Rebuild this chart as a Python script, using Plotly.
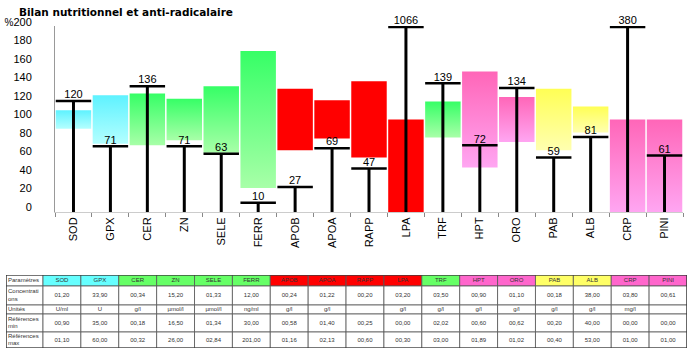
import plotly.graph_objects as go

# ---------------- data ----------------
categories = ["SOD", "GPX", "CER", "ZN", "SELE", "FERR", "APOB", "APOA", "RAPP",
              "LPA", "TRF", "HPT", "ORO", "PAB", "ALB", "CRP", "PINI"]
pct_values = [120, 71, 136, 71, 63, 10, 27, 69, 47, 1066, 139, 72, 134, 59, 81, 380, 61]
bar_low = [90, 73.7, 72, 77.6, 64.1, 26, 66.7, 79.3, 58.8, 0, 80.5, 48.2, 75.6, 66.7, 86, 0, 0]
bar_high = [110, 126.3, 128, 122.4, 135.9, 174, 133.3, 120.7, 141.2, 100, 119.5, 151.8, 124.4, 133.3, 114, 100, 100]
groups = ["cyan", "cyan", "green", "green", "green", "green", "red", "red", "red",
          "red", "green", "pink", "pink", "yellow", "yellow", "pink", "pink"]
y_ticks = [0, 20, 40, 60, 80, 100, 120, 140, 160, 180, 200]
y_ticktext = ["0", "20", "40", "60", "80", "100", "120", "140", "160", "180",
              "<span style='font-size:10px'>%</span>200"]

header_label = "Paramètres"
row_labels = ["Concentrati<br>ons", "Unités", "Références<br>min", "Références<br>max"]
concentrations = ["01,20", "33,90", "00,34", "15,20", "01,33", "12,00", "00,24", "01,22", "00,20",
                  "03,20", "03,50", "00,90", "01,10", "00,18", "38,00", "03,80", "00,61"]
units = ["U/ml", "U", "g/l", "µmol/l", "µmol/l", "ng/ml", "g/l", "g/l", "",
         "g/l", "g/l", "g/l", "g/l", "g/l", "g/l", "mg/l", ""]
ref_min = ["00,90", "35,00", "00,18", "16,50", "01,34", "30,00", "00,58", "01,40", "00,25",
           "00,00", "02,02", "00,60", "00,62", "00,20", "40,00", "00,00", "00,00"]
ref_max = ["01,10", "60,00", "00,32", "26,00", "02,84", "201,00", "01,16", "02,13", "00,60",
           "00,30", "03,00", "01,89", "01,02", "00,40", "53,00", "01,00", "01,00"]

# ---------------- layout / style constants ----------------
W, H = 694, 355
grad = {
    "cyan": ("#b4ffff", "#5ef2ff"),
    "green": ("#a8ffa8", "#36ff66"),
    "pink": ("#ffa6f2", "#ff66b8"),
    "yellow": ("#ffffb0", "#ffff55"),
}
header_col = {"cyan": "#66ffff", "green": "#66ff66", "red": "#ff0000",
              "pink": "#ff66cc", "yellow": "#ffff66"}
FONT = "Liberation Sans, Arial, sans-serif"
half = 0.48


def px_x(sx):
    return sx / W


def px_y(sy):
    return (H - sy) / H


fig = go.Figure()

# ---------------- floating range bars (gradient filled) ----------------
for i, cat in enumerate(categories):
    lo, hi = bar_low[i], bar_high[i]
    xs = [i - half, i + half, i + half, i - half, i - half]
    ys = [lo, lo, hi, hi, lo]
    g = groups[i]
    kw = dict(x=xs, y=ys, mode="lines", fill="toself", line=dict(width=0),
              hoverinfo="skip", showlegend=False)
    if g == "red":
        kw["fillcolor"] = "#ff0000"
    else:
        light, dark = grad[g]
        kw["fillcolor"] = dark
        kw["fillgradient"] = dict(type="vertical", colorscale=[[0, light], [1, dark]])
    fig.add_trace(go.Scatter(**kw))

# ---------------- stems, caps and value labels ----------------
ymax = 200
shown = [min(v, ymax) for v in pct_values]
sx, sy, cx, cy = [], [], [], []
for i, v in enumerate(shown):
    sx += [i, i, None]
    sy += [0, v, None]
    cx += [i - half, i + half, None]
    cy += [v, v, None]
fig.add_trace(go.Scatter(x=sx, y=sy, mode="lines", line=dict(color="black", width=3),
                         hoverinfo="skip", showlegend=False))
fig.add_trace(go.Scatter(x=cx, y=cy, mode="lines", line=dict(color="black", width=2.5),
                         hoverinfo="skip", showlegend=False))
fig.add_trace(go.Scatter(x=list(range(len(categories))), y=shown, mode="text",
                         text=[str(v) for v in pct_values], textposition="top center",
                         textfont=dict(family=FONT, size=11, color="black"),
                         cliponaxis=False, hoverinfo="skip", showlegend=False))

# ---------------- table (on its own hidden axes) ----------------
tab_x0 = 6
first_w = 37
tab_w = 681
col_w = (tab_w - first_w) / len(categories)
col_edges = [0, first_w] + [first_w + col_w * (k + 1) for k in range(len(categories))]
row_edges = [0, 11, 30, 39, 57, 73]
header_fill = ["white"] + [header_col[g] for g in groups]
columns = [[header_label] + row_labels] + [
    [categories[j], concentrations[j], units[j], ref_min[j], ref_max[j]]
    for j in range(len(categories))]

shapes = []
tx, ty, tt, tpos = [], [], [], []
for c in range(len(columns)):
    x0, x1 = col_edges[c], col_edges[c + 1]
    for r in range(len(row_edges) - 1):
        y0, y1 = row_edges[r], row_edges[r + 1]
        fill = header_fill[c] if r == 0 else "white"
        shapes.append(dict(type="rect", xref="x2", yref="y2", x0=x0, x1=x1, y0=y0, y1=y1,
                           fillcolor=fill, line=dict(color="#555555", width=0.8), layer="below"))
        txt = columns[c][r]
        if c == 0:
            tx.append(x0 + 2)
            tpos.append("middle right")
        else:
            tx.append((x0 + x1) / 2)
            tpos.append("middle center")
        ty.append((y0 + y1) / 2)
        tt.append(txt)
# outer border
shapes.append(dict(type="rect", xref="x2", yref="y2", x0=0, x1=tab_w, y0=0, y1=row_edges[-1],
                   line=dict(color="#333333", width=1.2), fillcolor="rgba(0,0,0,0)"))

fig.add_trace(go.Scatter(x=tx, y=ty, text=tt, mode="text", textposition=tpos,
                         textfont=dict(family=FONT, size=6, color="#333333"),
                         xaxis="x2", yaxis="y2", cliponaxis=False,
                         hoverinfo="skip", showlegend=False))

fig.add_annotation(text="<b>Bilan nutritionnel et anti-radicalaire</b>",
                   xref="paper", yref="paper", x=px_x(17), y=px_y(12.5),
                   xanchor="left", yanchor="middle", showarrow=False,
                   font=dict(family="DejaVu Sans, sans-serif", size=10.5, color="black"))

fig.update_layout(
    width=W, height=H,
    margin=dict(l=0, r=0, t=0, b=0, autoexpand=False),
    paper_bgcolor="white", plot_bgcolor="white",
    template="none",
    showlegend=False,
    hovermode=False,
    shapes=shapes,
    xaxis=dict(domain=[px_x(55), px_x(683)], range=[-0.5, len(categories) - 0.5],
               tickmode="array", tickvals=list(range(len(categories))), ticktext=categories,
               tickangle=-90, ticks="", showgrid=False, zeroline=False,
               showline=True, linecolor="#cccccc", linewidth=1,
               tickfont=dict(family=FONT, size=11, color="black"),
               minor=dict(tickmode="array",
                          tickvals=[k - 0.5 for k in range(len(categories) + 1)],
                          ticks="outside", ticklen=4, tickcolor="#888", showgrid=False),
               fixedrange=True),
    yaxis=dict(domain=[px_y(212), px_y(26)], range=[0, 201],
               tickmode="array", tickvals=y_ticks, ticktext=y_ticktext,
               ticks="", showgrid=False, zeroline=False,
               showline=True, linecolor="#999999", linewidth=1,
               ticklabelstandoff=20, ticklabelshift=-5,
               tickfont=dict(family=FONT, size=11, color="black"),
               fixedrange=True),
    xaxis2=dict(domain=[px_x(tab_x0), px_x(tab_x0 + tab_w)], range=[0, tab_w], anchor="y2",
                visible=False, fixedrange=True),
    yaxis2=dict(domain=[px_y(348), px_y(275)], range=[row_edges[-1], 0], anchor="x2",
                visible=False, fixedrange=True),
)

fig.write_html("out.html", config={"displayModeBar": False},
               post_script="document.body.style.margin='0px';")
